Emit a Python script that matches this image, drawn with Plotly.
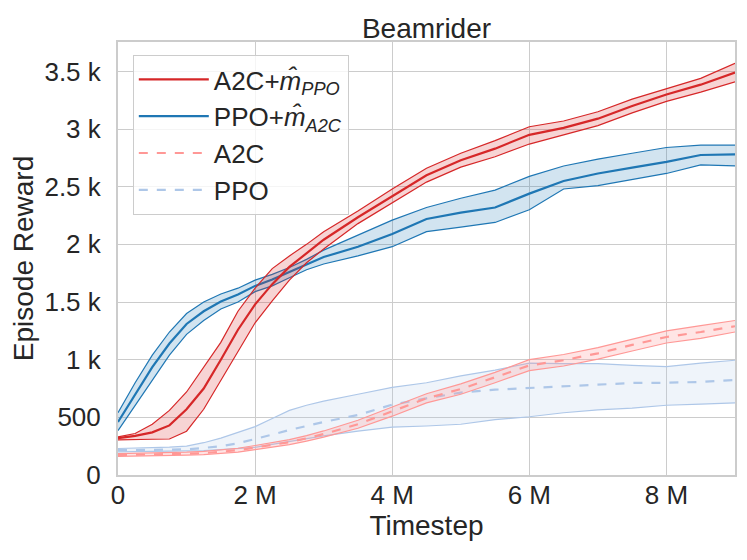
import plotly.graph_objects as go

# Timestep in millions
steps = [0, 0.25, 0.5, 0.75, 1, 1.25, 1.5, 1.75, 2, 2.25, 2.5, 2.75, 3,
         3.5, 4, 4.5, 5, 5.5, 6, 6.5, 7, 7.5, 8, 8.5, 9]

# A2C + m_PPO
a2c_m_mean = [320, 340, 370, 430, 570, 750, 1000, 1260, 1480, 1655, 1805, 1925, 2040,
              2235, 2420, 2600, 2730, 2830, 2950, 3010, 3090, 3200, 3300, 3385, 3490]
a2c_m_hi = [330, 360, 440, 560, 720, 930, 1150, 1420, 1620, 1790, 1900, 2000, 2110,
            2290, 2480, 2660, 2790, 2900, 3020, 3070, 3150, 3260, 3350, 3440, 3570]
a2c_m_lo = [305, 310, 310, 312, 380, 570, 820, 1060, 1320, 1510, 1690, 1840, 1960,
            2180, 2360, 2540, 2670, 2760, 2870, 2950, 3030, 3140, 3240, 3320, 3410]

# PPO + m_A2C
ppo_m_mean = [460, 700, 935, 1140, 1310, 1420, 1505, 1565, 1640, 1695, 1760, 1830, 1890,
              1980, 2090, 2220, 2275, 2320, 2440, 2550, 2615, 2665, 2715, 2775, 2780]
ppo_m_hi = [540, 800, 1040, 1240, 1400, 1500, 1570, 1620, 1690, 1740, 1800, 1870, 1950,
            2080, 2210, 2320, 2400, 2470, 2590, 2680, 2740, 2790, 2840, 2860, 2860]
ppo_m_lo = [385, 600, 820, 1040, 1220, 1340, 1440, 1500, 1590, 1640, 1710, 1780, 1830,
            1900, 1980, 2110, 2150, 2190, 2300, 2480, 2510, 2560, 2615, 2690, 2680]

# A2C baseline
a2c_mean = [173, 175, 178, 181, 185, 190, 200, 215, 238, 260, 285, 318, 355,
            440, 550, 665, 745, 845, 950, 995, 1055, 1128, 1197, 1240, 1290]
a2c_hi = [185, 187, 190, 193, 198, 205, 216, 232, 256, 280, 307, 342, 382,
          475, 590, 705, 790, 890, 1000, 1045, 1105, 1180, 1250, 1295, 1340]
a2c_lo = [162, 163, 166, 169, 172, 176, 185, 199, 220, 240, 263, 294, 328,
          405, 510, 625, 700, 800, 905, 945, 1005, 1075, 1145, 1185, 1240]

# PPO baseline
ppo_mean = [215, 216, 218, 220, 222, 235, 250, 275, 310, 350, 390, 425, 460,
            520, 610, 665, 715, 740, 755, 772, 785, 798, 800, 807, 824]
ppo_hi = [230, 232, 235, 242, 250, 280, 320, 370, 420, 490, 560, 605, 640,
          700, 760, 800, 860, 910, 970, 965, 965, 950, 940, 970, 995]
ppo_lo = [200, 202, 205, 205, 205, 212, 220, 228, 240, 265, 290, 315, 340,
          380, 415, 425, 440, 480, 505, 540, 565, 580, 605, 615, 625]

x_ticks = [0, 2, 4, 6, 8]
x_labels = ["0", "2 M", "4 M", "6 M", "8 M"]
y_ticks = [0, 500, 1000, 1500, 2000, 2500, 3000, 3500]
y_labels = ["0", "500", "1 k", "1.5 k", "2 k", "2.5 k", "3 k", "3.5 k"]

series = [
    # name, mean, hi, lo, colour, fill, dash, rank
    ("PPO", ppo_mean, ppo_hi, ppo_lo, "#aec7e8", "rgba(174,199,232,0.2)", "dash", 4),
    ("A2C", a2c_mean, a2c_hi, a2c_lo, "#ff9896", "rgba(255,152,150,0.25)", "dash", 3),
    ("PPO+<i>m\u0302</i><sub><i>A2C</i></sub>", ppo_m_mean, ppo_m_hi, ppo_m_lo,
     "#1f77b4", "rgba(31,119,180,0.2)", "solid", 2),
    ("A2C+<i>m\u0302</i><sub><i>PPO</i></sub>", a2c_m_mean, a2c_m_hi, a2c_m_lo,
     "#d62728", "rgba(214,39,40,0.2)", "solid", 1),
]

fig = go.Figure()
for name, mean, hi, lo, col, fill, dash, rank in series:
    fig.add_trace(go.Scatter(x=steps, y=lo, mode="lines", line=dict(color=col, width=1.2),
                             showlegend=False, hoverinfo="skip"))
    fig.add_trace(go.Scatter(x=steps, y=hi, mode="lines", line=dict(color=col, width=1.2),
                             fill="tonexty", fillcolor=fill, showlegend=False, hoverinfo="skip"))
    fig.add_trace(go.Scatter(x=steps, y=mean, mode="lines", name=name, legendrank=rank,
                             line=dict(color=col, width=2.2, dash=dash)))

axis_common = dict(showgrid=True, gridcolor="#cccccc", gridwidth=1.2, showline=True,
                   linecolor="#cccccc", linewidth=2, mirror=True, zeroline=False,
                   ticks="", tickfont=dict(size=26, color="#262626"))

# the page body adds an 8px offset, so margins are shifted to compensate
fig.update_layout(
    width=747, height=560,
    paper_bgcolor="white", plot_bgcolor="white",
    font=dict(family="Liberation Sans, Arial, sans-serif", color="#262626"),
    title=dict(text="Beamrider", x=0.5, xref="paper", xanchor="center",
               y=1, yref="paper", yanchor="bottom", pad=dict(b=4),
               font=dict(size=28)),
    margin=dict(l=110, r=20, t=34, b=93),
    legend=dict(x=0.024, y=0.97, xanchor="left", yanchor="top", traceorder="normal",
                bgcolor="rgba(255,255,255,0.8)", bordercolor="#cccccc", borderwidth=1,
                font=dict(size=26), tracegroupgap=0, itemwidth=70),
    xaxis=dict(range=[0, 9], tickvals=x_ticks, ticktext=x_labels, ticklabelstandoff=-4,
               title=dict(text="Timestep", font=dict(size=28), standoff=6), **axis_common),
    yaxis=dict(range=[0, 3755], tickvals=y_ticks, ticktext=y_labels, ticklabelstandoff=10,
               title=dict(text="Episode Reward", font=dict(size=28), standoff=4), **axis_common),
)

fig.write_html("out.html")
